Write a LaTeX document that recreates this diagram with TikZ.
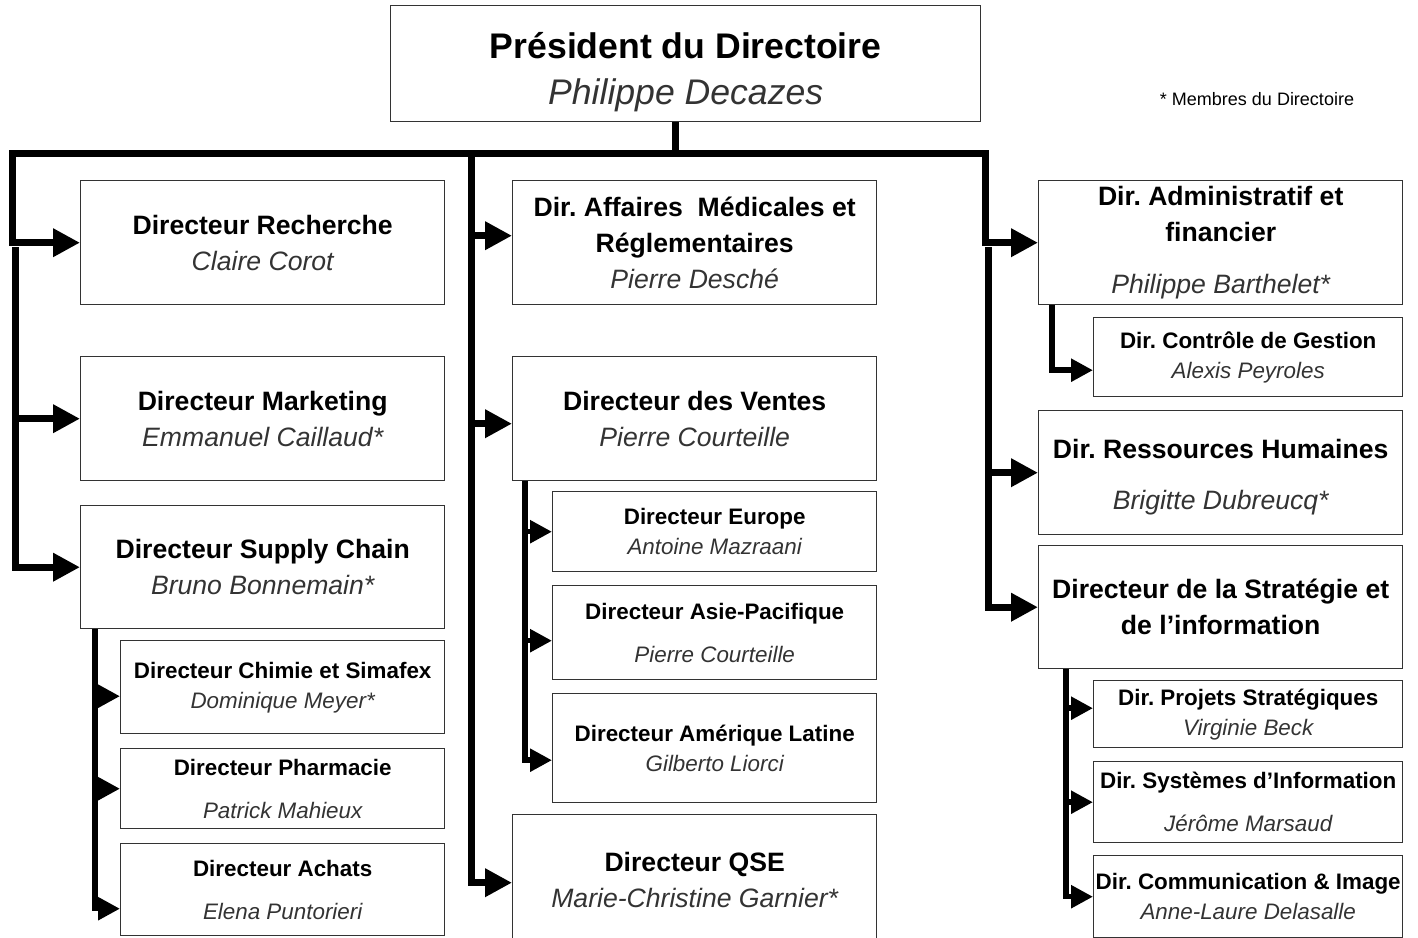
\documentclass[tikz,border=0pt]{standalone}
\usepackage{xcolor}
\usepackage{fontspec}
\setmainfont{Liberation Sans}
\usepackage{tikz}
\usetikzlibrary{arrows.meta}
\newcommand*{\fonc}[1]{\textbf{#1}}
\newcommand*{\nom}[1]{\textcolor{black!80}{\itshape #1}}
\frenchspacing

\begin{document}
\begin{tikzpicture}[ % 图的属性
        x=0.5pt, y=-0.5pt, % 1 单位 = 原图 1 像素, y 向下
        >={Triangle[length=13.5pt,width=13.5pt]}, % 粗箭头
        line join=miter
      ]
      \tikzstyle{poste}=[draw=black!80, line width=0.7pt, rectangle, inner sep=0pt, align=center, anchor=north west, font=\fontsize{13.3}{18}\selectfont] % 主框
      \tikzstyle{sousposte}=[poste, font=\fontsize{11.2}{15}\selectfont] % 子框
      \tikzstyle{tronc}=[line width=3.5pt, ->] % 主干连线
      \tikzstyle{barre}=[line width=3.5pt, -]
      \tikzstyle{branche}=[line width=2.75pt, -{Triangle[length=11pt,width=11pt]}] % 分支连线
      \clip (0,0) rectangle (1418,937); % 画布
      %% node
      \node[poste, minimum width=295pt, minimum height=58pt, font=\fontsize{17.8}{23}\selectfont] (pres) at (390,5) {\rule{0pt}{21pt}\fonc{Président du Directoire}\\\nom{Philippe Decazes}};
      \node[font=\fontsize{9}{11}\selectfont] (note) at (1257,99) {* Membres du Directoire};
      % 左列
      \node[poste, minimum width=182pt, minimum height=62pt] (rech) at (80,180) {\fonc{Directeur Recherche}\\\nom{Claire Corot}};
      \node[poste, minimum width=182pt, minimum height=62pt] (mark) at (80,356) {\fonc{Directeur Marketing}\\\nom{Emmanuel Caillaud*}};
      \node[poste, minimum width=182pt, minimum height=61.5pt] (supply) at (80,505) {\fonc{Directeur Supply Chain}\\\nom{Bruno Bonnemain*}};
      \node[sousposte, minimum width=162pt, minimum height=46.5pt] (chimie) at (120,640) {\fonc{Directeur Chimie et Simafex}\\\nom{Dominique Meyer*}};
      \node[sousposte, minimum width=162pt, minimum height=40pt] (pharma) at (120,748) {\fonc{Directeur Pharmacie}\\[6.5pt]\nom{Patrick Mahieux}};
      \node[sousposte, minimum width=162pt, minimum height=46pt] (achats) at (120,843) {\fonc{Directeur Achats}\\[6.5pt]\nom{Elena Puntorieri}};
      % 中列
      \node[poste, minimum width=182pt, minimum height=62pt] (aff) at (512,180) {\fonc{Dir. Affaires\ \ Médicales et}\\\fonc{Réglementaires}\\\nom{Pierre Desché}};
      \node[poste, minimum width=182pt, minimum height=62pt] (ventes) at (512,356) {\fonc{Directeur des Ventes}\\\nom{Pierre Courteille}};
      \node[sousposte, minimum width=162pt, minimum height=40pt] (europe) at (552,491) {\fonc{Directeur Europe}\\\nom{Antoine Mazraani}};
      \node[sousposte, minimum width=162pt, minimum height=47pt] (asie) at (552,585) {\fonc{Directeur Asie-Pacifique}\\[6.5pt]\nom{Pierre Courteille}};
      \node[sousposte, minimum width=162pt, minimum height=54.5pt] (amerique) at (552,693) {\fonc{Directeur Amérique Latine}\\\nom{Gilberto Liorci}};
      \node[poste, minimum width=182pt, minimum height=65pt] (qse) at (512,814) {\fonc{Directeur QSE}\\\nom{Marie-Christine Garnier*}};
      % 右列
      \node[poste, minimum width=182pt, minimum height=62pt] (admin) at (1038,180) {\fonc{Dir. Administratif et}\\\fonc{financier}\\[8pt]\nom{Philippe Barthelet*}};
      \node[sousposte, minimum width=154.5pt, minimum height=39.5pt] (controle) at (1093,317) {\fonc{Dir. Contrôle de Gestion}\\\nom{Alexis Peyroles}};
      \node[poste, minimum width=182pt, minimum height=62pt] (rh) at (1038,410) {\rule{0pt}{14pt}\fonc{Dir. Ressources Humaines}\\[7.5pt]\nom{Brigitte Dubreucq*}};
      \node[poste, minimum width=182pt, minimum height=61.5pt] (strat) at (1038,545) {\fonc{Directeur de la Stratégie et}\\\fonc{de l’information}};
      \node[sousposte, minimum width=154.5pt, minimum height=33.5pt] (projets) at (1093,680) {\fonc{Dir. Projets Stratégiques}\\\nom{Virginie Beck}};
      \node[sousposte, minimum width=154.5pt, minimum height=40.5pt] (systemes) at (1093,761) {\fonc{Dir. Systèmes d’Information}\\[6.5pt]\nom{Jérôme Marsaud}};
      \node[sousposte, minimum width=154.5pt, minimum height=41pt] (comm) at (1093,855) {\fonc{Dir. Communication \& Image}\\\nom{Anne-Laure Delasalle}};
      %% path
      \coordinate (barL) at (12,153);
      \coordinate (barM) at (471,153);
      \coordinate (barR) at (985,153);
      \coordinate (gL) at (15,247);
      \coordinate (gR) at (988,247);
      \path ([yshift=3.5pt]aff.west) coordinate (affIn)
            ([yshift=-2.5pt]ventes.west) coordinate (ventesIn)
            ([yshift=-1.5pt]qse.west) coordinate (qseIn);
      \draw[barre] ([xshift=-5pt]pres.south) -- ([xshift=-5pt]pres.south |- barM);
      \draw[tronc] (barM) -- (barL) |- (rech.west);
      \draw[tronc] (gL) |- (supply.west);
      \draw[tronc] (gL |- mark.west) -- (mark.west);
      \draw[tronc] (barM) |- (qseIn);
      \draw[tronc] (barM |- affIn) -- (affIn);
      \draw[tronc] (barM |- ventesIn) -- (ventesIn);
      \draw[tronc] (barM) -- (barR) |- (admin.west);
      \draw[tronc] (gR) |- (strat.west);
      \draw[tronc] (gR |- rh.west) -- (rh.west);
      % 分支
      \coordinate (sL) at ([xshift=7.5pt]supply.south west);
      \path ([yshift=-4.5pt]chimie.west) coordinate (chimieIn)
            ([yshift=-9.5pt]achats.west) coordinate (achatsIn);
      \draw[branche] (sL) |- (achatsIn);
      \draw[branche] (sL |- chimieIn) -- (chimieIn);
      \draw[branche] (sL |- pharma.west) -- (pharma.west);
      \coordinate (sV) at ([xshift=6.5pt]ventes.south west);
      \path ([yshift=-4pt]asie.west) coordinate (asieIn)
            ([yshift=-6pt]amerique.west) coordinate (ameriqueIn);
      \draw[branche] (sV) |- (ameriqueIn);
      \draw[branche] (sV |- europe.west) -- (europe.west);
      \draw[branche] (sV |- asieIn) -- (asieIn);
      \coordinate (sA) at ([xshift=7pt]admin.south west);
      \path ([yshift=-6.5pt]controle.west) coordinate (controleIn);
      \draw[branche] (sA) |- (controleIn);
      \coordinate (sS) at ([xshift=14pt]strat.south west);
      \path ([yshift=3pt]projets.west) coordinate (projetsIn);
      \draw[branche] (sS) |- (comm.west);
      \draw[branche] (sS |- projetsIn) -- (projetsIn);
      \draw[branche] (sS |- systemes.west) -- (systemes.west);
\end{tikzpicture}
\end{document}
